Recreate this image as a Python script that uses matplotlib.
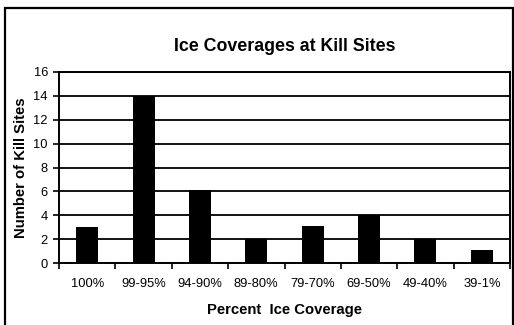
import matplotlib.pyplot as plt
from matplotlib.patches import Rectangle

categories = ["100%", "99-95%", "94-90%", "89-80%", "79-70%", "69-50%", "49-40%", "39-1%"]
kill_sites = [3, 14, 6.1, 2, 3.1, 4, 2, 1.1]
y_ticks = [0, 2, 4, 6, 8, 10, 12, 14, 16]

plt.rcParams['font.family'] = ['Liberation Sans', 'DejaVu Sans']

fig = plt.figure(figsize=(5.14, 3.25), dpi=100)
ax = fig.add_axes([59 / 514, 1 - 263 / 325, 451 / 514, 191 / 325])

x = range(len(categories))
ax.bar(x, kill_sites, width=0.39, color="black", zorder=3)

ax.set_xlim(-0.5, len(categories) - 0.5)
ax.set_ylim(0, 16)
ax.set_yticks(y_ticks)
ax.yaxis.grid(True, color="black", linewidth=1.3, zorder=1)

# ticks at category boundaries, labels centred
ax.set_xticks([i - 0.5 for i in range(len(categories) + 1)])
ax.set_xticklabels([])
ax.set_xticks(list(x), minor=True)
ax.set_xticklabels(categories, minor=True, fontsize=9.3)
ax.tick_params(axis="x", which="major", length=4, width=1.2, direction="out")
ax.tick_params(axis="x", which="minor", length=0, pad=11)
ax.tick_params(axis="y", length=4, width=1.2, labelsize=9.3, pad=4)

for s in ax.spines.values():
    s.set_linewidth(1.4)

ax.set_title("Ice Coverages at Kill Sites", fontsize=12.8, fontweight="bold", pad=15)
ax.set_xlabel("Percent  Ice Coverage", fontsize=10.7, fontweight="bold", labelpad=9)
ax.set_ylabel("Number of Kill Sites", fontsize=10.7, fontweight="bold", labelpad=4)

# outer chart frame
fig.patches.append(Rectangle((5 / 514, -0.05), 508 / 514, 1.05 - 8 / 325,
                             transform=fig.transFigure, fill=False,
                             edgecolor="black", linewidth=1.6))

fig.savefig("out.png", dpi=100)
